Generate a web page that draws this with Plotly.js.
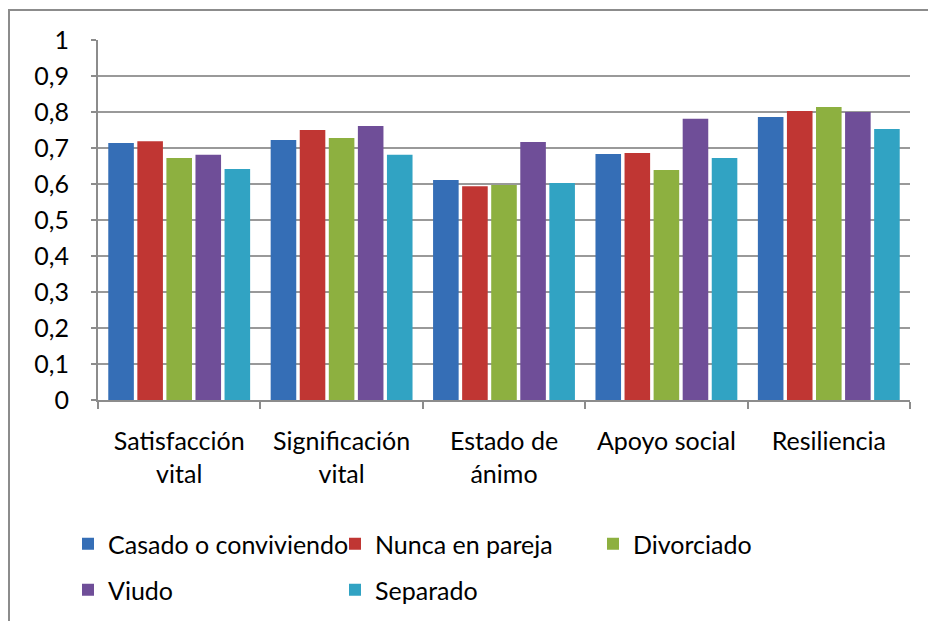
<!DOCTYPE html>
<html>
<head>
<meta charset="utf-8">
<script src="https://cdn.plot.ly/plotly-3.0.1.min.js"></script>
<style>
  html, body { margin: 0; padding: 0; background: #fff; }
  #wrap { position: relative; width: 928px; height: 621px; overflow: hidden; }
  #frame { position: absolute; left: 8px; top: 9px; width: 1000px; height: 1000px;
           border-left: 2px solid #8c8c8c; border-top: 2px solid #8c8c8c; box-sizing: border-box; pointer-events: none; }
  #chart { position: absolute; left: 0; top: 0; width: 928px; height: 621px; }
</style>
</head>
<body>
<div id="wrap">
  <div id="chart"></div>
  <div id="frame"></div>
</div>
<script>
const categories = ["Satisfacción<br>vital", "Significación<br>vital", "Estado de<br>ánimo", "Apoyo social", "Resiliencia"];
const seriesNames = ["Casado o conviviendo", "Nunca en pareja", "Divorciado", "Viudo", "Separado"];
const casado     = [0.714, 0.722, 0.611, 0.683, 0.786];
const nunca      = [0.719, 0.750, 0.594, 0.686, 0.803];
const divorciado = [0.672, 0.728, 0.597, 0.639, 0.814];
const viudo      = [0.681, 0.761, 0.717, 0.781, 0.800];
const separado   = [0.642, 0.681, 0.603, 0.672, 0.753];
const yTicks = [0, 0.1, 0.2, 0.3, 0.4, 0.5, 0.6, 0.7, 0.8, 0.9, 1];

const colors = ["#356eb6", "#c03633", "#8db040", "#6f4e98", "#31a3c3"];
const values = [casado, nunca, divorciado, viudo, separado];
const legendIds = ["legend", "legend", "legend3", "legend2", "legend2"];

const FONT = "Lato, 'Open Sans', sans-serif";
const FS = 25;

const traces = values.map((v, i) => ({
  type: "bar",
  name: seriesNames[i],
  x: categories,
  y: v,
  marker: { color: colors[i], line: { width: 0 } },
  legend: legendIds[i],
  hoverinfo: "x+y+name"
}));

const legendBase = {
  orientation: "h",
  xref: "container", yref: "container",
  xanchor: "left", yanchor: "middle",
  font: { family: FONT, size: FS, color: "#000" },
  bgcolor: "rgba(0,0,0,0)",
  entrywidthmode: "pixels",
  entrywidth: 222,
  itemclick: false, itemdoubleclick: false
};

const layout = {
  width: 928, height: 621,
  margin: { l: 98, r: 18, t: 40, b: 221 },
  paper_bgcolor: "#ffffff",
  plot_bgcolor: "#ffffff",
  separators: ",.",
  font: { family: FONT, size: FS, color: "#000" },
  barmode: "group",
  bargap: 0.105,
  bargroupgap: 0.12,
  showlegend: true,
  xaxis: {
    type: "category",
    showgrid: false,
    showline: true, linecolor: "#8c8c8c", linewidth: 2,
    ticks: "outside", tickson: "boundaries", ticklen: 7, tickcolor: "#8c8c8c", tickwidth: 2,
    ticklabelstandoff: 18,
    tickfont: { family: FONT, size: FS, color: "#000" },
    fixedrange: true
  },
  yaxis: {
    range: [0, 1],
    tickvals: yTicks,
    showgrid: true, gridcolor: "#999999", gridwidth: 2,
    zeroline: false,
    showline: true, linecolor: "#8c8c8c", linewidth: 2,
    ticks: "outside", ticklen: 5, tickcolor: "#8c8c8c", tickwidth: 2,
    ticklabelstandoff: 17,
    tickfont: { family: FONT, size: FS, color: "#000" },
    fixedrange: true
  },
  legend: Object.assign({}, legendBase, { x: 68 / 928, y: 1 - 544 / 621 }),
  legend2: Object.assign({}, legendBase, { x: 68 / 928, y: 1 - 590 / 621 }),
  legend3: Object.assign({}, legendBase, { x: 593 / 928, y: 1 - 544 / 621 })
};

Plotly.newPlot("chart", traces, layout, { displayModeBar: false, staticPlot: true });
</script>
</body>
</html>
